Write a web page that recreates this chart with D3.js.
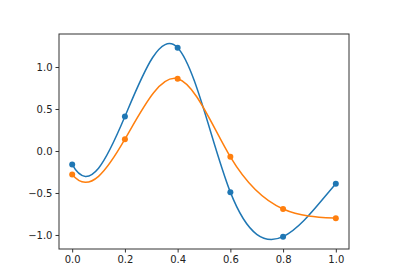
<!DOCTYPE html>
<html>
<head>
<meta charset="utf-8">
<script src="https://cdn.jsdelivr.net/npm/d3@7"></script>
<style>
  body { margin: 0; background: #fff; }
  svg { display: block; }
  .tick text { font-family: "DejaVu Sans", sans-serif; font-size: 10px; fill: #222; }
</style>
</head>
<body>
<svg id="chart" width="400" height="280"></svg>
<script>
var xs = [0.0, 0.2, 0.4, 0.6, 0.8, 1.0];
var blueVals = [-0.16, 0.41, 1.23, -0.49, -1.02, -0.39];
var orangeVals = [-0.28, 0.14, 0.86, -0.07, -0.69, -0.80];
var xTicks = [0.0, 0.2, 0.4, 0.6, 0.8, 1.0];
var yTicks = [-1.0, -0.5, 0.0, 0.5, 1.0];

var svg = d3.select("#chart"),
    margin = {top: 34, left: 59, bottom: 31, right: 51},
    width = +svg.attr("width"),
    height = +svg.attr("height");

var x = d3.scaleLinear()
    .domain([-0.05, 1.05])
    .range([margin.left, width - margin.right]);

var y = d3.scaleLinear()
    .domain([-1.167, 1.393])
    .range([height - margin.bottom, margin.top]);

var fmt = d => d3.format(".1f")(d).replace("-", "\u2212");

// cubic spline with not-a-knot ends, drawn as bezier pieces
function curveNotAKnot(context) {
  return {
    areaStart() {}, areaEnd() {},
    lineStart() { this._x = []; this._y = []; },
    point(px, py) { this._x.push(+px); this._y.push(+py); },
    lineEnd() {
      var X = this._x, Y = this._y, n = X.length;
      var h = [], s = [];
      for (var i = 0; i < n - 1; i++) {
        h.push(X[i + 1] - X[i]);
        s.push((Y[i + 1] - Y[i]) / h[i]);
      }
      var A = [], b = [];
      for (i = 0; i < n; i++) { A.push(new Array(n).fill(0)); b.push(0); }
      var d0 = X[2] - X[0];
      A[0][0] = h[1]; A[0][1] = d0;
      b[0] = ((h[0] + 2 * d0) * h[1] * s[0] + h[0] * h[0] * s[1]) / d0;
      for (i = 1; i < n - 1; i++) {
        A[i][i - 1] = h[i];
        A[i][i] = 2 * (h[i - 1] + h[i]);
        A[i][i + 1] = h[i - 1];
        b[i] = 3 * (h[i] * s[i - 1] + h[i - 1] * s[i]);
      }
      var dn = X[n - 1] - X[n - 3];
      A[n - 1][n - 2] = dn; A[n - 1][n - 1] = h[n - 3];
      b[n - 1] = (h[n - 2] * h[n - 2] * s[n - 3] + (2 * dn + h[n - 2]) * h[n - 3] * s[n - 2]) / dn;
      // gaussian elimination
      for (var c = 0; c < n; c++) {
        var p = c;
        for (var r = c + 1; r < n; r++) if (Math.abs(A[r][c]) > Math.abs(A[p][c])) p = r;
        [A[c], A[p]] = [A[p], A[c]]; [b[c], b[p]] = [b[p], b[c]];
        for (r = c + 1; r < n; r++) {
          var f = A[r][c] / A[c][c];
          for (var k = c; k < n; k++) A[r][k] -= f * A[c][k];
          b[r] -= f * b[c];
        }
      }
      var m = new Array(n).fill(0);
      for (i = n - 1; i >= 0; i--) {
        var sum = b[i];
        for (k = i + 1; k < n; k++) sum -= A[i][k] * m[k];
        m[i] = sum / A[i][i];
      }
      context.moveTo(X[0], Y[0]);
      for (i = 0; i < n - 1; i++) {
        var t = h[i] / 3;
        context.bezierCurveTo(X[i] + t, Y[i] + m[i] * t,
                              X[i + 1] - t, Y[i + 1] - m[i + 1] * t,
                              X[i + 1], Y[i + 1]);
      }
    }
  };
}

svg.append("g")
    .attr("transform", "translate(0," + (height - margin.bottom) + ")")
    .call(d3.axisBottom(x).tickValues(xTicks).tickFormat(fmt).tickSize(3.5).tickPadding(3))
    .call(g => g.select(".domain").remove())
    .call(g => g.selectAll("line").attr("stroke", "#333"));

svg.append("g")
    .attr("transform", "translate(" + margin.left + ",0)")
    .call(d3.axisLeft(y).tickValues(yTicks).tickFormat(fmt).tickSize(3.5).tickPadding(3))
    .call(g => g.select(".domain").remove())
    .call(g => g.selectAll("line").attr("stroke", "#333"));

var series = [
  {vals: blueVals, color: "#1f77b4"},
  {vals: orangeVals, color: "#ff7f0e"}
];

var line = d3.line()
    .x(d => x(d[0]))
    .y(d => y(d[1]))
    .curve(curveNotAKnot);

series.forEach(function(s) {
  var pts = xs.map((v, i) => [v, s.vals[i]]);
  svg.append("path")
      .datum(pts)
      .attr("fill", "none")
      .attr("stroke", s.color)
      .attr("stroke-width", 1.5)
      .attr("d", line);
  svg.selectAll(null)
      .data(pts)
      .enter().append("circle")
      .attr("cx", d => x(d[0]))
      .attr("cy", d => y(d[1]))
      .attr("r", 3)
      .attr("fill", s.color);
});

svg.append("rect")
    .attr("x", margin.left)
    .attr("y", margin.top)
    .attr("width", width - margin.left - margin.right)
    .attr("height", height - margin.top - margin.bottom)
    .attr("fill", "none")
    .attr("stroke", "#333")
    .attr("stroke-width", 1);
</script>
</body>
</html>
